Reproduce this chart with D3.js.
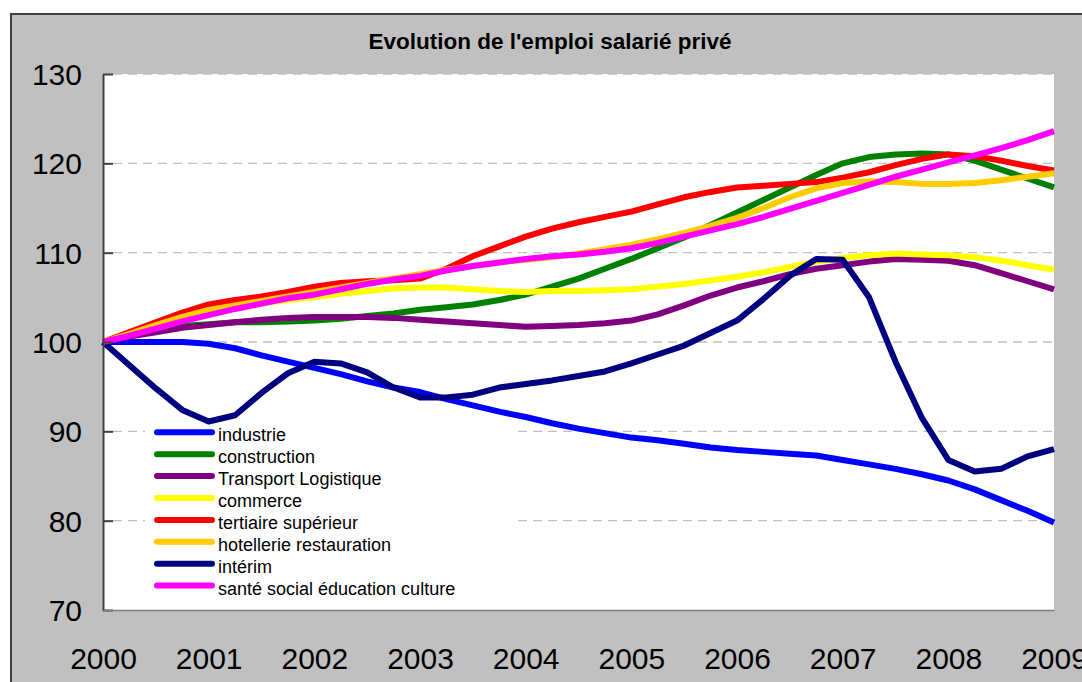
<!DOCTYPE html>
<html lang="fr">
<head>
<meta charset="utf-8">
<script src="https://d3js.org/d3.v7.min.js"></script>
<style>
  body { margin:0; padding:0; background:#fff; }
  svg { display:block; font-family:Arial, "Liberation Sans", sans-serif; }
  .grid line { stroke:#c0c0c0; stroke-width:1.3; stroke-dasharray:9,6; }
  .serie { fill:none; stroke-width:6; stroke-linejoin:round; stroke-linecap:butt; }
  .y-axis text, .x-axis text { font-size:30px; fill:#000; }
</style>
</head>
<body>
<svg id="chart" width="1082" height="682"></svg>
<script>
// trimestres 2000T1 .. 2009T1
const periods = ['2000T1','2000T2','2000T3','2000T4','2001T1','2001T2','2001T3','2001T4',
  '2002T1','2002T2','2002T3','2002T4','2003T1','2003T2','2003T3','2003T4',
  '2004T1','2004T2','2004T3','2004T4','2005T1','2005T2','2005T3','2005T4',
  '2006T1','2006T2','2006T3','2006T4','2007T1','2007T2','2007T3','2007T4',
  '2008T1','2008T2','2008T3','2008T4','2009T1'];
const yTicks = [70, 80, 90, 100, 110, 120, 130];

const industrie = [100,100,100,100,99.8,99.3,98.5,97.8,97.1,96.4,95.6,94.9,94.4,93.6,92.9,92.2,
  91.6,90.9,90.3,89.8,89.3,89.0,88.6,88.2,87.9,87.7,87.5,87.3,86.8,86.3,85.8,85.2,84.5,83.5,82.3,81.1,79.8];
const construction = [100,100.7,101.3,101.8,102.0,102.2,102.2,102.3,102.4,102.6,102.9,103.2,103.6,103.9,104.2,104.7,
  105.3,106.2,107.1,108.2,109.3,110.5,111.7,113.1,114.5,115.9,117.3,118.7,120.0,120.7,121.0,121.1,121.0,120.3,119.3,118.3,117.3];
const transport = [100,100.6,101.1,101.6,101.9,102.2,102.5,102.7,102.8,102.8,102.8,102.7,102.5,102.3,102.1,101.9,
  101.7,101.8,101.9,102.1,102.4,103.1,104.1,105.2,106.1,106.8,107.6,108.2,108.6,109.0,109.3,109.2,109.1,108.6,107.7,106.8,105.9];
const commerce = [100,100.9,101.8,102.7,103.4,103.9,104.3,104.7,105.0,105.4,105.7,106.0,106.1,106.1,105.9,105.7,
  105.6,105.7,105.7,105.8,105.9,106.2,106.5,106.9,107.3,107.8,108.4,109.0,109.4,109.7,109.9,109.8,109.7,109.5,109.1,108.6,108.1];
const tertiaire = [100,101.1,102.2,103.3,104.2,104.7,105.1,105.6,106.2,106.6,106.8,106.9,107.1,108.2,109.6,110.7,
  111.8,112.7,113.4,114.0,114.6,115.4,116.2,116.8,117.3,117.5,117.7,117.9,118.4,119.0,119.8,120.5,121.0,120.8,120.3,119.7,119.2];
const hotellerie = [100,100.9,101.9,102.8,103.6,104.1,104.6,105.1,105.6,106.1,106.6,107.1,107.6,108.1,108.5,108.9,
  109.2,109.5,109.9,110.4,110.9,111.5,112.2,113.0,113.9,115.0,116.2,117.2,117.8,118.0,117.9,117.7,117.7,117.8,118.1,118.5,118.9];
const interim = [100,97.4,94.8,92.4,91.1,91.8,94.3,96.5,97.8,97.6,96.6,94.9,93.8,93.8,94.1,94.9,
  95.3,95.7,96.2,96.7,97.6,98.6,99.6,101.0,102.4,104.8,107.4,109.3,109.2,105.0,97.8,91.5,86.8,85.5,85.8,87.2,88.0];
const sante = [100,100.7,101.5,102.3,103.0,103.7,104.3,104.9,105.3,105.9,106.5,107.0,107.4,108.0,108.5,108.9,
  109.3,109.6,109.8,110.1,110.5,111.1,111.8,112.5,113.2,114.0,114.9,115.8,116.7,117.6,118.5,119.3,120.1,120.9,121.7,122.6,123.6];

const seriesNames = ['industrie','construction','Transport Logistique','commerce','tertiaire supérieur',
  'hotellerie restauration','intérim','santé social éducation culture'];
const seriesValues = [industrie, construction, transport, commerce, tertiaire, hotellerie, interim, sante];
const colors = ['#0000ff','#008000','#800080','#ffff00','#ff0000','#ffcc00','#000080','#ff00ff'];

const plotLeft = 103, plotRight = 1054, plotTop = 74, plotBottom = 610;
const svg = d3.select('#chart');

// fond gris et cadre
svg.append('rect').attr('x', 11).attr('y', 14).attr('width', 1082).attr('height', 682).attr('fill', '#c0c0c0');
svg.append('path').attr('d', 'M11,682V14H1082').attr('fill', 'none').attr('stroke', '#404040').attr('stroke-width', 2);

svg.append('text')
   .attr('x', 550).attr('y', 49)
   .attr('text-anchor', 'middle')
   .style('font-size', '22.5px').style('font-weight', 'bold')
   .text("Evolution de l'emploi salarié privé");

svg.append('rect').attr('x', plotLeft).attr('y', plotTop)
   .attr('width', plotRight - plotLeft).attr('height', plotBottom - plotTop).attr('fill', '#fff');

const x = d3.scalePoint().domain(periods).range([plotLeft, plotRight]);
const y = d3.scaleLinear().domain([70, 130]).range([plotBottom, plotTop]);

// grille
svg.append('g').attr('class', 'grid')
   .selectAll('line').data(yTicks.filter(d => d > 70)).enter().append('line')
   .attr('x1', plotLeft + 10).attr('x2', plotRight)
   .attr('y1', d => y(d)).attr('y2', d => y(d));

// légende (fond blanc qui masque la grille)
const legX = 155, legY = 432.3, legStep = 21.9;
svg.append('rect').attr('x', 145).attr('y', 425).attr('width', 372).attr('height', 176).attr('fill', '#fff');

const line = d3.line().x((d, i) => x(periods[i])).y(d => y(d));
svg.selectAll('.serie').data(seriesValues).enter().append('path')
   .attr('class', 'serie')
   .attr('stroke', (d, i) => colors[i])
   .attr('d', line);

const leg = svg.append('g').selectAll('g').data(seriesNames).enter().append('g')
   .attr('transform', (d, i) => 'translate(' + legX + ',' + (legY + i * legStep) + ')');
leg.append('line').attr('x1', 2).attr('x2', 57).attr('y1', 0).attr('y2', 0)
   .attr('stroke', (d, i) => colors[i]).attr('stroke-width', 6).attr('stroke-linecap', 'round');
leg.append('text').attr('x', 63).attr('y', 9).style('font-size', '18px').text(d => d);

// axes
const yAxis = d3.axisLeft(y).tickValues(yTicks).tickSizeInner(-10).tickSizeOuter(0).tickPadding(21);
const gy = svg.append('g').attr('class', 'y-axis').attr('transform', 'translate(' + plotLeft + ',0)').call(yAxis);
gy.select('.domain').attr('stroke', '#404040').attr('stroke-width', 2);
gy.selectAll('.tick line').attr('stroke', '#404040').attr('stroke-width', 2);
gy.selectAll('text').attr('dy', '0.35em');

const xAxis = d3.axisBottom(x).tickValues(periods.filter(p => p.endsWith('T1')))
   .tickFormat(p => p.slice(0, 4)).tickSize(0).tickPadding(59);
const gx = svg.append('g').attr('class', 'x-axis').attr('transform', 'translate(0,' + plotBottom + ')').call(xAxis);
gx.select('.domain').attr('stroke', '#808080').attr('stroke-width', 1.5);
gx.selectAll('text').attr('dy', '0');
</script>
</body>
</html>
